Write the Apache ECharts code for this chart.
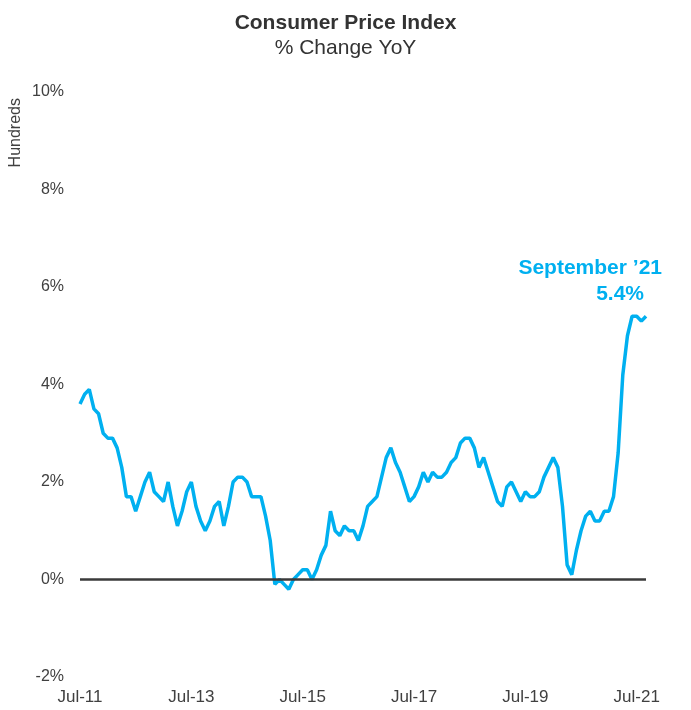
<!DOCTYPE html>
<html>
<head>
<meta charset="utf-8">
<script src="https://cdn.jsdelivr.net/npm/echarts@6/dist/echarts.min.js"></script>
<style>
  html, body { margin: 0; padding: 0; background: #fff; }
  #main { width: 691px; height: 710px; }
</style>
</head>
<body>
<div id="main"></div>
<script>
  // 月份，Jul-11 .. Sep-21
  var months = ['Jul-11','Aug-11','Sep-11','Oct-11','Nov-11','Dec-11',
    'Jan-12','Feb-12','Mar-12','Apr-12','May-12','Jun-12','Jul-12','Aug-12','Sep-12','Oct-12','Nov-12','Dec-12',
    'Jan-13','Feb-13','Mar-13','Apr-13','May-13','Jun-13','Jul-13','Aug-13','Sep-13','Oct-13','Nov-13','Dec-13',
    'Jan-14','Feb-14','Mar-14','Apr-14','May-14','Jun-14','Jul-14','Aug-14','Sep-14','Oct-14','Nov-14','Dec-14',
    'Jan-15','Feb-15','Mar-15','Apr-15','May-15','Jun-15','Jul-15','Aug-15','Sep-15','Oct-15','Nov-15','Dec-15',
    'Jan-16','Feb-16','Mar-16','Apr-16','May-16','Jun-16','Jul-16','Aug-16','Sep-16','Oct-16','Nov-16','Dec-16',
    'Jan-17','Feb-17','Mar-17','Apr-17','May-17','Jun-17','Jul-17','Aug-17','Sep-17','Oct-17','Nov-17','Dec-17',
    'Jan-18','Feb-18','Mar-18','Apr-18','May-18','Jun-18','Jul-18','Aug-18','Sep-18','Oct-18','Nov-18','Dec-18',
    'Jan-19','Feb-19','Mar-19','Apr-19','May-19','Jun-19','Jul-19','Aug-19','Sep-19','Oct-19','Nov-19','Dec-19',
    'Jan-20','Feb-20','Mar-20','Apr-20','May-20','Jun-20','Jul-20','Aug-20','Sep-20','Oct-20','Nov-20','Dec-20',
    'Jan-21','Feb-21','Mar-21','Apr-21','May-21','Jun-21','Jul-21','Aug-21','Sep-21'];

  // CPI 同比 (%)
  var cpi = [3.6,3.8,3.9,3.5,3.4,3.0,
    2.9,2.9,2.7,2.3,1.7,1.7,1.4,1.7,2.0,2.2,1.8,1.7,
    1.6,2.0,1.5,1.1,1.4,1.8,2.0,1.5,1.2,1.0,1.2,1.5,
    1.6,1.1,1.5,2.0,2.1,2.1,2.0,1.7,1.7,1.7,1.3,0.8,
    -0.1,0.0,-0.1,-0.2,0.0,0.1,0.2,0.2,0.0,0.2,0.5,0.7,
    1.4,1.0,0.9,1.1,1.0,1.0,0.8,1.1,1.5,1.6,1.7,2.1,
    2.5,2.7,2.4,2.2,1.9,1.6,1.7,1.9,2.2,2.0,2.2,2.1,
    2.1,2.2,2.4,2.5,2.8,2.9,2.9,2.7,2.3,2.5,2.2,1.9,
    1.6,1.5,1.9,2.0,1.8,1.6,1.8,1.7,1.7,1.8,2.1,2.3,
    2.5,2.3,1.5,0.3,0.1,0.6,1.0,1.3,1.4,1.2,1.2,1.4,
    1.4,1.7,2.6,4.2,5.0,5.4,5.4,5.3,5.4];

  var yTicks = [-2, 0, 2, 4, 6, 8, 10];
  var noteLines = ['September \u201921', '5.4%'];

  var font = '"Liberation Sans", Arial, sans-serif';
  var chart = echarts.init(document.getElementById('main'));

  chart.setOption({
    animation: false,
    title: [{
      text: 'Consumer Price Index',
      left: 'center',
      top: 8,
      textStyle: { fontFamily: font, fontSize: 21, fontWeight: 'bold', color: '#333' }
    }, {
      text: '% Change YoY',
      left: 'center',
      top: 33,
      textStyle: { fontFamily: font, fontSize: 21, fontWeight: 'normal', color: '#333' }
    }],
    grid: { left: 80, right: 45, top: 92, bottom: 33 },
    xAxis: {
      type: 'category',
      data: months,
      boundaryGap: false,
      axisLine: { show: false },
      axisTick: { show: false },
      axisLabel: {
        interval: 23,
        margin: 12,
        color: '#404040',
        fontFamily: font,
        fontSize: 17
      }
    },
    yAxis: {
      type: 'value',
      min: yTicks[0],
      max: yTicks[yTicks.length - 1],
      interval: 2,
      splitLine: { show: false },
      axisLine: { show: false },
      axisTick: { show: false },
      axisLabel: {
        margin: 16,
        color: '#404040',
        fontFamily: font,
        fontSize: 16,
        formatter: '{value}%'
      }
    },
    series: [{
      type: 'line',
      data: cpi,
      symbol: 'none',
      z: 3,
      lineStyle: { color: '#00b0f0', width: 3.5 },
      markLine: {
        silent: true,
        symbol: 'none',
        label: { show: false },
        lineStyle: { color: '#3a3a3a', width: 2.5, type: 'solid' },
        data: [{ yAxis: 0 }]
      }
    }]
  });

  // 注释文字，按最后一个点的位置放置
  var last = chart.convertToPixel({ seriesIndex: 0 }, [months.length - 1, cpi[cpi.length - 1]]);
  chart.setOption({
    graphic: [
      {
        type: 'text',
        left: 8, top: 98,
        style: { text: 'Hundreds', fill: '#404040', font: '16px ' + font },
        rotation: Math.PI / 2
      },
      {
        type: 'text',
        x: last[0] + 16, y: last[1] - 59,
        style: { text: noteLines[0], fill: '#00b0f0', align: 'right', font: 'bold 21px ' + font }
      },
      {
        type: 'text',
        x: last[0] - 2, y: last[1] - 33,
        style: { text: noteLines[1], fill: '#00b0f0', align: 'right', font: 'bold 21px ' + font }
      }
    ]
  });
</script>
</body>
</html>
